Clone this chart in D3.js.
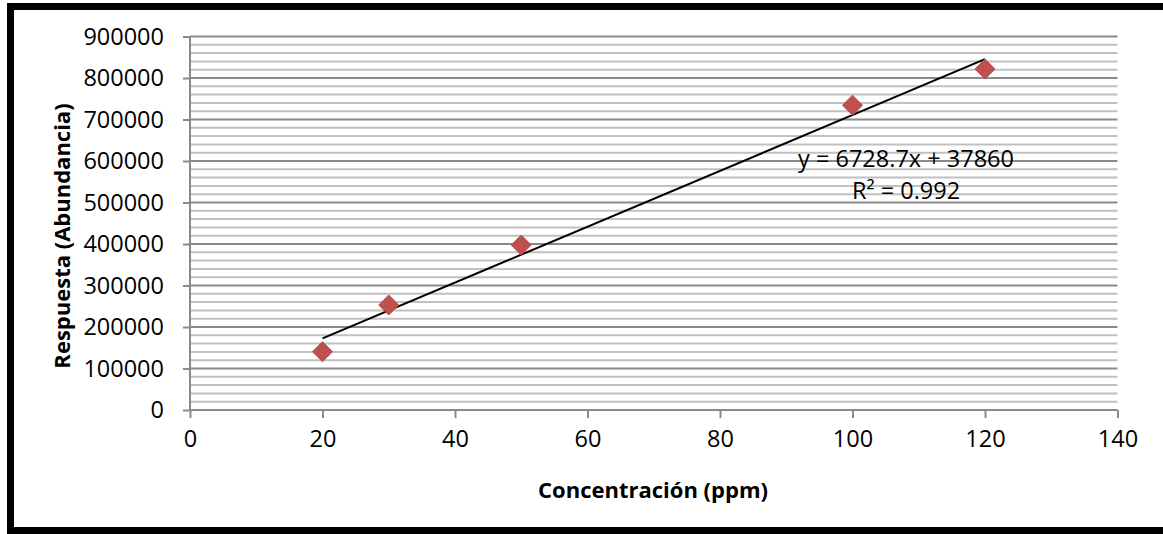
<!DOCTYPE html>
<html><head><meta charset="utf-8">
<script src="https://cdn.jsdelivr.net/npm/d3@7"></script>
<style>
html,body{margin:0;padding:0;background:#fff;}
svg{display:block;font-family:"Open Sans","Noto Sans",sans-serif;}
</style></head>
<body>
<svg id="chart" width="1163" height="534"></svg>
<script>
// ---- data ----
const concentrations = [20, 30, 50, 100, 120];
const responses = [140500, 253000, 397500, 734500, 821500];
const trendSlope = 6728.7;
const trendIntercept = 37860;
const equationLabel = "y = 6728.7x + 37860";
const r2Label = "R² = 0.992";
const xTicks = [0, 20, 40, 60, 80, 100, 120, 140];
const yTicks = [0, 100000, 200000, 300000, 400000, 500000, 600000, 700000, 800000, 900000];
const xTitle = "Concentración (ppm)";
const yTitle = "Respuesta (Abundancia)";

const svg = d3.select("#chart");
svg.append("rect").attr("width",1163).attr("height",534).attr("fill","#fff");
// outer frame
svg.append("rect").attr("x",10.5).attr("y",6.5).attr("width",1200).attr("height",524)
  .attr("fill","none").attr("stroke","#000").attr("stroke-width",7);

const L=190, R=1117.5, T=36.5, B=410;
const x = d3.scaleLinear().domain([0,140]).range([L,R]);
const y = d3.scaleLinear().domain([0,900000]).range([B,T]);

// minor grid
const minor = d3.range(20000, 900001, 20000).filter(v => v % 100000 !== 0);
svg.append("g").selectAll("line").data(minor).join("line")
  .attr("x1",L).attr("x2",R).attr("y1",d=>y(d)).attr("y2",d=>y(d))
  .attr("stroke","#c0c0c0").attr("stroke-width",2);
// major grid
svg.append("g").selectAll("line").data(yTicks.filter(v=>v>0)).join("line")
  .attr("x1",L).attr("x2",R).attr("y1",d=>y(d)).attr("y2",d=>y(d))
  .attr("stroke","#8a8a8a").attr("stroke-width",2);

// y axis
const yAxis = svg.append("g").attr("transform",`translate(${L},0)`)
  .call(d3.axisLeft(y).tickValues(yTicks).tickSize(7).tickPadding(19).tickFormat(d3.format("d")));
yAxis.select(".domain").attr("stroke","#8a8a8a").attr("stroke-width",2).attr("d",`M0,${T}V${B}`);
yAxis.selectAll(".tick line").attr("stroke","#8a8a8a").attr("stroke-width",2);
yAxis.selectAll("text").attr("font-size",23.5).attr("fill","#000").attr("font-family","'Open Sans',sans-serif");

// x axis
const xAxis = svg.append("g").attr("transform",`translate(0,${B})`)
  .call(d3.axisBottom(x).tickValues(xTicks).tickSize(8).tickPadding(12));
xAxis.select(".domain").attr("stroke","#8a8a8a").attr("stroke-width",2).attr("d",`M${L},0H${R}`);
xAxis.selectAll(".tick line").attr("stroke","#8a8a8a").attr("stroke-width",2);
xAxis.selectAll("text").attr("font-size",23.5).attr("fill","#000").attr("font-family","'Open Sans',sans-serif");

// trendline
const x0 = d3.min(concentrations), x1 = d3.max(concentrations);
svg.append("line")
  .attr("x1",x(x0)).attr("y1",y(trendSlope*x0+trendIntercept))
  .attr("x2",x(x1)).attr("y2",y(trendSlope*x1+trendIntercept))
  .attr("stroke","#000").attr("stroke-width",2);

// points
const pts = concentrations.map((c,i)=>({c, v: responses[i]}));
svg.append("g").selectAll("path").data(pts).join("path")
  .attr("d","M0,-10L10,0L0,10L-10,0Z")
  .attr("transform",d=>`translate(${x(d.c)},${y(d.v)})`)
  .attr("fill","#c0504d").attr("stroke","#b94a47").attr("stroke-width",1);

// equation
svg.append("text").attr("x",906).attr("y",167).attr("text-anchor","middle")
  .attr("font-size",23.5).text(equationLabel);
svg.append("text").attr("x",906).attr("y",199).attr("text-anchor","middle")
  .attr("font-size",23.5).text(r2Label);

// titles
svg.append("text").attr("x",653).attr("y",498).attr("text-anchor","middle")
  .attr("font-size",22).attr("font-weight","bold").text(xTitle);
svg.append("text").attr("transform","translate(70,236) rotate(-90)").attr("text-anchor","middle")
  .attr("font-size",22).attr("font-weight","bold").text(yTitle);
</script>
</body></html>
